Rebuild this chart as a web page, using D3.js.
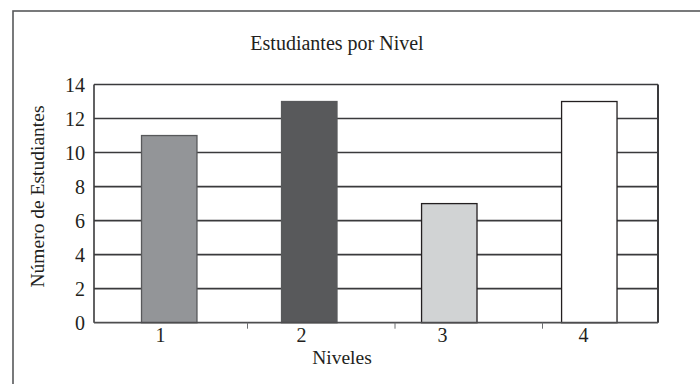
<!DOCTYPE html>
<html>
<head>
<meta charset="utf-8">
<script src="https://cdn.jsdelivr.net/npm/d3@7"></script>
<style>
  html, body { margin: 0; padding: 0; background: #fff; }
  svg { display: block; }
  text { font-family: "Liberation Serif", "Times New Roman", serif; fill: #231f20; }
</style>
</head>
<body>
<svg id="chart" width="700" height="384"></svg>
<script>
// Chart data
const categories = ["1", "2", "3", "4"];
const values = [11, 13, 7, 13];
const barColors = ["#939598", "#58595b", "#d1d3d4", "#ffffff"];
const barStrokes = ["#58595b", "#58595b", "#231f20", "#231f20"];
const yTicks = [0, 2, 4, 6, 8, 10, 12, 14];
const titleText = "Estudiantes por Nivel";
const xTitle = "Niveles";
const yTitle = "Número de Estudiantes";

const svg = d3.select("#chart");
const plot = { left: 94, right: 658, top: 84.5, bottom: 322.7 };

// Outer frame
svg.append("rect")
  .attr("x", 13).attr("y", 11)
  .attr("width", 720).attr("height", 420)
  .attr("fill", "none").attr("stroke", "#58595b").attr("stroke-width", 1.6);

const y = d3.scaleLinear().domain([0, 14]).range([plot.bottom, plot.top]);

// Bars
const x = d3.scaleBand().domain(categories)
  .range([plot.left, plot.right])
  .paddingInner(0.604).paddingOuter(0.316).align(0.537);

// Category labels
const xLab = d3.scaleBand().domain(categories).range([plot.left - 4, plot.right - 4]);

// Category separators under the axis
const xSep = d3.scaleLinear().domain([0, 4]).range([100, 690]);

// Horizontal gridlines
svg.append("g").selectAll("line")
  .data(yTicks.filter(d => d > 0))
  .join("line")
  .attr("x1", plot.left).attr("x2", plot.right)
  .attr("y1", d => y(d)).attr("y2", d => y(d))
  .attr("stroke", "#3a3a3c").attr("stroke-width", 1.6);

// Plot frame sides
svg.append("line")
  .attr("x1", plot.right).attr("x2", plot.right)
  .attr("y1", plot.top).attr("y2", plot.bottom)
  .attr("stroke", "#3a3a3c").attr("stroke-width", 2);
svg.append("line")
  .attr("x1", plot.left).attr("x2", plot.left)
  .attr("y1", plot.top).attr("y2", plot.bottom)
  .attr("stroke", "#3a3a3c").attr("stroke-width", 1.6);

// Bars
svg.append("g").selectAll("rect")
  .data(values)
  .join("rect")
  .attr("x", (d, i) => x(categories[i]))
  .attr("y", d => y(d))
  .attr("width", x.bandwidth())
  .attr("height", d => y(0) - y(d))
  .attr("fill", (d, i) => barColors[i])
  .attr("stroke", (d, i) => barStrokes[i])
  .attr("stroke-width", 1.3);

// Baseline
svg.append("line")
  .attr("x1", plot.left).attr("x2", plot.right)
  .attr("y1", y(0)).attr("y2", y(0))
  .attr("stroke", "#4d4d4f").attr("stroke-width", 1.8);

// Separator ticks
svg.append("g").selectAll("line")
  .data([1, 2, 3])
  .join("line")
  .attr("x1", d => xSep(d)).attr("x2", d => xSep(d))
  .attr("y1", y(0)).attr("y2", y(0) + 6)
  .attr("stroke", "#6d6e71").attr("stroke-width", 1);

// Y tick labels
svg.append("g").selectAll("text")
  .data(yTicks)
  .join("text")
  .attr("x", 85)
  .attr("y", d => y(d))
  .attr("dy", "0.35em")
  .attr("text-anchor", "end")
  .attr("font-size", 20)
  .text(d => d);

// X tick labels
svg.append("g").selectAll("text")
  .data(categories)
  .join("text")
  .attr("x", d => xLab(d) + xLab.bandwidth() / 2)
  .attr("y", 342)
  .attr("text-anchor", "middle")
  .attr("font-size", 20)
  .text(d => d);

// Titles
svg.append("text")
  .attr("x", 337).attr("y", 50)
  .attr("text-anchor", "middle")
  .attr("font-size", 20)
  .text(titleText);

svg.append("text")
  .attr("x", 342).attr("y", 364)
  .attr("text-anchor", "middle")
  .attr("font-size", 19.5)
  .text(xTitle);

svg.append("text")
  .attr("transform", "translate(44,196.5) rotate(-90)")
  .attr("text-anchor", "middle")
  .attr("font-size", 19.5)
  .text(yTitle);
</script>
</body>
</html>
